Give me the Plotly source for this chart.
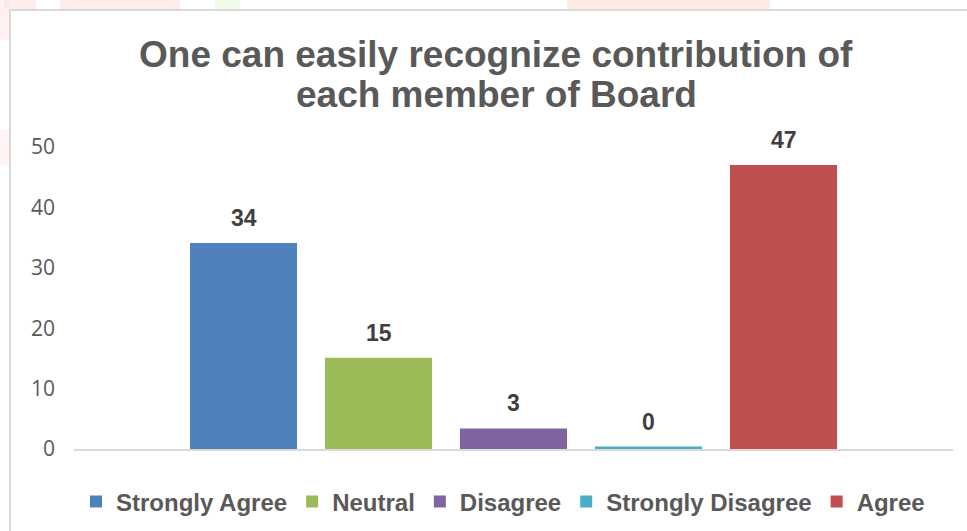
import plotly.graph_objects as go

categories = ["Strongly Agree", "Neutral", "Disagree", "Strongly Disagree", "Agree"]
values = [34.1, 15.1, 3.4, 0.4, 47.0]
labels = ["34", "15", "3", "0", "47"]
colors = ["#4F81BD", "#9BBB59", "#8064A2", "#4BACC6", "#C0504D"]
yticks = [0, 10, 20, 30, 40, 50]
title_lines = ["One can easily recognize contribution of", "each member of Board"]

W, H = 967, 531
L, R, T, B = 74, 14, 147, 82
PW, PH = W - L - R, H - T - B


def px_x(p):
    return (p - L) / PW


def px_y(p):
    return (H - B - p) / PH


fig = go.Figure()
for cat, v, c in zip(categories, values, colors):
    fig.add_trace(go.Bar(x=[cat], y=[v], name=f"<b>{cat}</b>", legendgroup=cat,
                         marker=dict(color=c, line=dict(width=0)), hoverinfo="x+y"))

annotations = []
for cat, v, lab in zip(categories, values, labels):
    annotations.append(dict(x=cat, y=v, xref="x", yref="y", text=f"<b>{lab}</b>", showarrow=False,
                            yanchor="bottom", yshift=10,
                            font=dict(family="Liberation Sans, Arial", size=23, color="#404040")))

for line, cy in zip(title_lines, [54, 94]):
    annotations.append(dict(x=px_x(496), y=px_y(cy), xref="paper", yref="paper", xanchor="center",
                            yanchor="middle", text=f"<b>{line}</b>", showarrow=False,
                            font=dict(family="Liberation Sans, Arial", size=37, color="#595959")))

shapes = []
# faint decorative patches outside chart border
patches = [
    (4, 0, 36, 9, "rgba(255,215,215,0.45)"),
    (60, 0, 180, 9, "rgba(255,215,215,0.45)"),
    (215, 0, 240, 9, "rgba(225,245,210,0.5)"),
    (567, 0, 770, 9, "rgba(255,210,200,0.45)"),
    (0, 0, 9, 40, "rgba(255,215,215,0.35)"),
    (0, 130, 9, 165, "rgba(255,220,220,0.35)"),
]
for x0, y0, x1, y1, col in patches:
    shapes.append(dict(type="rect", xref="paper", yref="paper", x0=px_x(x0), x1=px_x(x1),
                       y0=px_y(y0), y1=px_y(y1), fillcolor=col, line=dict(width=0), layer="below"))
# chart border
shapes.append(dict(type="rect", xref="paper", yref="paper", x0=px_x(10), x1=px_x(1000),
                   y0=px_y(10), y1=px_y(560), fillcolor="rgba(0,0,0,0)",
                   line=dict(color="#D9D9D9", width=2), layer="below"))

fig.update_layout(
    width=W, height=H,
    margin=dict(l=L, r=R, t=T, b=B, pad=0, autoexpand=False),
    paper_bgcolor="white", plot_bgcolor="rgba(0,0,0,0)",
    barmode="overlay", bargap=0.207,
    showlegend=True,
    legend=dict(orientation="h", x=px_x(503), xanchor="center", y=px_y(502), yanchor="middle",
                font=dict(family="Liberation Sans, Arial", size=24, color="#595959"),
                itemwidth=30, traceorder="normal", bgcolor="rgba(0,0,0,0)"),
    annotations=annotations,
    shapes=shapes,
    xaxis=dict(type="category", categoryorder="array", categoryarray=categories,
               range=[-1.2556, 5.2556], showticklabels=False, showgrid=False, zeroline=False,
               showline=True, linecolor="#D9D9D9", linewidth=2, ticks="", fixedrange=True,
               automargin=False),
    yaxis=dict(range=[0, 50], tickvals=yticks, showgrid=False, zeroline=False, showline=False,
               ticks="", ticklabelstandoff=18, automargin=False,
               tickfont=dict(family="Open Sans", size=21, color="#595959"), fixedrange=True),
)

fig.write_html("out.html", config={"displayModeBar": False})
